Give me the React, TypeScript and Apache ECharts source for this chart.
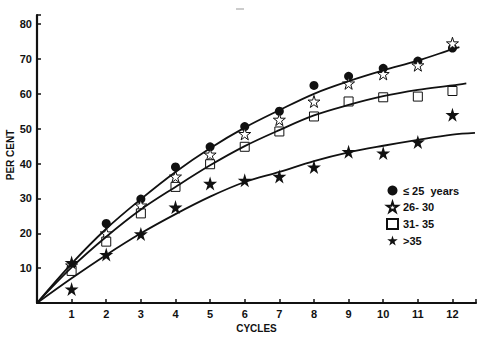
import React, { useEffect, useRef } from "react";
import * as echarts from "echarts";

// Measured points (cycle, per cent)
const cycles = [1, 2, 3, 4, 5, 6, 7, 8, 9, 10, 11, 12];
const under25 = [10.5, 22.8, 29.8, 39, 44.8, 50.6, 55, 62.4, 65, 67.3, 69.4, 73.1];
const age26to30 = [10.8, 20, 28, 36.3, 42.6, 48.5, 52.6, 57.8, 63, 65.7, 68.2, 74.5];
const age31to35 = [9.2, 17.6, 25.7, 33.3, 39.8, 44.8, 49.2, 53.5, 57.8, 59, 59.2, 60.8];
const over35 = [4, 13.9, 19.8, 27.5, 34.3, 35.2, 36.3, 39, 43.4, 43, 46.2, 54];
const over35Extra = [[1, 11.6]];

// Fitted curves
const curveX = [0, 1, 2, 3, 4, 5, 6, 7, 8, 9, 10, 11, 12];
const topCurve = [0, 11.3, 21.3, 29.8, 37.6, 44.4, 50.3, 55.3, 60, 63.6, 66.7, 69.5, 72.8];
const topEnd = [12.2, 73.4];
const midCurve = [0, 10.2, 19, 26.8, 33.3, 39.5, 45, 49.6, 53.8, 56.8, 59.3, 61.1, 62.4];
const midEnd = [12.4, 63];
const lowCurve = [0, 7.1, 13.8, 20, 25.5, 30.5, 34.7, 37.6, 40.7, 43.2, 45.1, 46.8, 48.3];
const lowEnd = [12.65, 48.8];

const legendNames = ["\u2264 25  years", "26- 30", "31- 35", ">35"];

const STAR = "path://M50,0 L61,35 L98,35 L68,57 L79,91 L50,70 L21,91 L32,57 L2,35 L39,35 Z";

const pairs = (xs: number[], ys: number[]) => xs.map((x, i) => [x, ys[i]]);

export default function App() {
  const ref = useRef<HTMLDivElement>(null);
  useEffect(() => {
    if (!ref.current) return;
    const chart = echarts.init(ref.current, null, { renderer: "svg" });
    const font = "Liberation Sans";
    const lineStyle = { color: "#111", width: 1.8 };
    const curve = (data: number[][]) => ({
      type: "line",
      data,
      smooth: 0.35,
      showSymbol: false,
      symbol: "none",
      lineStyle,
      z: 5,
      silent: true,
    });
    chart.setOption({
      animation: false,
      backgroundColor: "#fff",
      grid: { left: 37, right: 20, top: 15, bottom: 40 },
      xAxis: {
        type: "value",
        min: 0,
        max: 12.68,
        interval: 1,
        name: "CYCLES",
        nameLocation: "middle",
        nameGap: 20,
        nameTextStyle: { color: "#111", fontFamily: font, fontWeight: "bold", fontSize: 10 },
        axisLine: { lineStyle: { color: "#111", width: 2.2 } },
        axisTick: { inside: true, length: 4, lineStyle: { color: "#111", width: 1.5 } },
        splitLine: { show: false },
        axisLabel: {
          color: "#111",
          fontFamily: font,
          fontWeight: "bold",
          fontSize: 11,
          margin: 5,
          formatter: (v: number) => (v > 0 && Number.isInteger(v) ? String(v) : ""),
        },
      },
      yAxis: {
        type: "value",
        min: 0,
        max: 82.6,
        interval: 10,
        axisLine: { show: true, lineStyle: { color: "#111", width: 2.2 } },
        axisTick: { show: true, inside: true, length: 4, lineStyle: { color: "#111", width: 1.5 } },
        splitLine: { show: false },
        axisLabel: {
          color: "#111",
          fontFamily: font,
          fontWeight: "bold",
          fontSize: 11,
          margin: 5,
          formatter: (v: number) => (v > 0 && v % 10 === 0 ? String(v) : ""),
        },
      },
      legend: {
        orient: "vertical",
        left: 381,
        top: 180,
        itemGap: 5,
        itemWidth: 11,
        itemHeight: 10,
        data: legendNames,
        textStyle: { color: "#111", fontFamily: font, fontWeight: "bold", fontSize: 11 },
        selectedMode: false,
      },
      graphic: [
        {
          type: "text",
          x: 10,
          y: 155,
          rotation: Math.PI / 2,
          style: {
            text: "PER CENT",
            fill: "#111",
            font: `bold 10px "${font}"`,
            align: "center",
            verticalAlign: "middle",
          },
        },
        {
          type: "line",
          shape: { x1: 236, y1: 9, x2: 244, y2: 9 },
          style: { stroke: "#999", lineWidth: 1 },
        },
      ],
      series: [
        {
          name: legendNames[0],
          type: "scatter",
          data: pairs(cycles, under25),
          symbol: "circle",
          symbolSize: 9,
          itemStyle: { color: "#111", opacity: 1 },
          z: 3,
        },
        {
          name: legendNames[1],
          type: "scatter",
          data: pairs(cycles, age26to30),
          symbol: STAR,
          symbolSize: 12,
          itemStyle: { color: "#fff", borderColor: "#111", borderWidth: 1, opacity: 1 },
          z: 3,
        },
        {
          name: legendNames[2],
          type: "scatter",
          data: pairs(cycles, age31to35),
          symbol: "rect",
          symbolSize: 9,
          itemStyle: { color: "#fff", borderColor: "#111", borderWidth: 1, opacity: 1 },
          z: 3,
        },
        {
          name: legendNames[3],
          type: "scatter",
          data: [...pairs(cycles, over35), ...over35Extra],
          symbol: STAR,
          symbolSize: 14,
          itemStyle: { color: "#111", opacity: 1 },
          z: 3,
        },
        curve([...pairs(curveX, topCurve), topEnd]),
        curve([...pairs(curveX, midCurve), midEnd]),
        curve([...pairs(curveX, lowCurve), lowEnd]),
      ],
    });
    return () => chart.dispose();
  }, []);
  return (
    <div
      ref={ref}
      style={{ position: "fixed", left: 0, top: 0, width: 496, height: 343 }}
    />
  );
}
